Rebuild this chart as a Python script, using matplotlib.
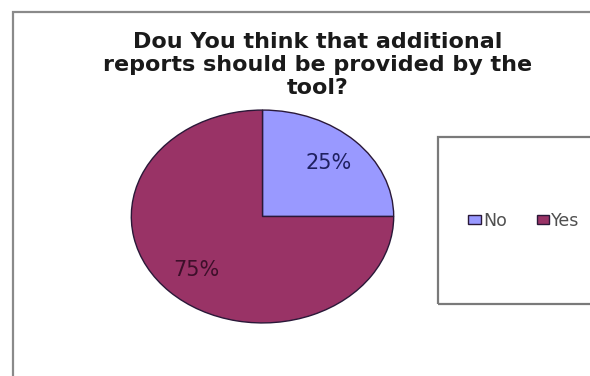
import matplotlib
matplotlib.use("Agg")
import matplotlib.pyplot as plt
from matplotlib.patches import Rectangle

# Survey answers
categories = ["No", "Yes"]
shares = [25, 75]
colors = ["#9999FF", "#993366"]
label_colors = ["#1f2060", "#3d0f2a"]
title = "Dou You think that additional\nreports should be provided by the\ntool?"

W, H = 590, 376
fig = plt.figure(figsize=(W / 100, H / 100), dpi=100)
fig.patch.set_facecolor("white")

def px_box(x0, y0, x1, y1):
    """Convert a pixel box (top-left origin) to figure fractions."""
    return [x0 / W, 1 - y1 / H, (x1 - x0) / W, (y1 - y0) / H]

# Chart area frame (extends past the right and bottom edges)
fig.patches.append(Rectangle((13 / W, -0.2), 1.2, 1 - 12 / H + 0.2,
                             transform=fig.transFigure, fill=False,
                             edgecolor="#8a8a8a", linewidth=1.6, zorder=0))

# Legend frame
fig.patches.append(Rectangle((438 / W, 1 - 304 / H), 0.4, (304 - 137) / H,
                             transform=fig.transFigure, fill=False,
                             edgecolor="#7a7a7a", linewidth=1.6, zorder=0))

ax = fig.add_axes(px_box(130, 109, 395, 324))
wedges, texts, autotexts = ax.pie(
    shares, colors=colors, startangle=90, counterclock=False,
    autopct="%d%%", pctdistance=0.71,
    wedgeprops=dict(edgecolor="#2a1838", linewidth=1.0),
    textprops=dict(fontsize=15, family="DejaVu Sans"),
)
for t, c in zip(autotexts, label_colors):
    t.set_color(c)
ax.set_aspect("auto")
ax.set_xlim(-1.01, 1.01)
ax.set_ylim(-1.01, 1.01)
ax.axis("off")

fig.text(318 / W, 1 - 65 / H, title, ha="center", va="center",
         multialignment="center", fontsize=16, fontweight="bold",
         family="DejaVu Sans", color="#1a1a1a", linespacing=1.2)

leg = fig.legend(wedges, categories, loc="center",
                 bbox_to_anchor=(524 / W, 1 - 221 / H), ncol=2,
                 frameon=False, fontsize=12.5, handlelength=0.7,
                 handleheight=0.45, handletextpad=0.15, columnspacing=1.7,
                 labelcolor="#505050")

fig.savefig("out.png", dpi=100, facecolor="white")
